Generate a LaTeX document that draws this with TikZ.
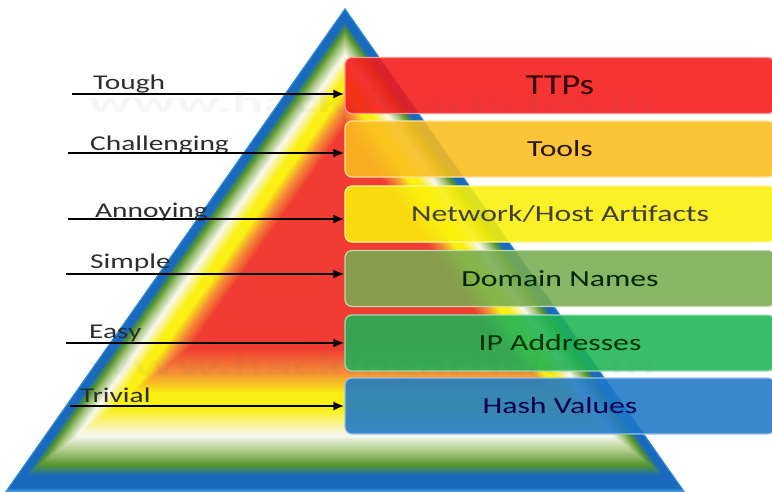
\documentclass[tikz,border=0pt]{standalone}
\usepackage{fontspec}
\setmainfont{Carlito}
\usepackage{graphicx}
\usetikzlibrary{calc,arrows.meta}
\definecolor{lblue}{RGB}{70,165,230}
\definecolor{pblue}{RGB}{25,105,190}
\definecolor{pgreen}{RGB}{85,150,45}
\definecolor{lgreen}{RGB}{170,200,130}
\definecolor{pwhite}{RGB}{248,248,240}
\definecolor{pyellow}{RGB}{250,240,20}
\definecolor{porange}{RGB}{245,140,55}
\definecolor{pred}{RGB}{240,60,50}
\definecolor{bred}{RGB}{245,25,25}
\definecolor{borange}{RGB}{250,190,30}
\definecolor{byellow}{RGB}{250,240,10}
\definecolor{bolive}{RGB}{120,172,80}
\definecolor{bgreen}{RGB}{30,180,85}
\definecolor{bblue}{RGB}{30,120,200}
\definecolor{lblgray}{RGB}{45,45,45}
\newcommand\wtxt[3]{\scalebox{#1}[1]{\fontsize{#2}{#2}\selectfont #3}}
\newcommand\pyrband[4]{%
  \foreach \k in {0,...,12}{%
    \pgfmathsetmacro\ss{#1-(#1-#2)*\k/12}%
    \pgfmathtruncatemacro\pp{100*\k/12}%
    \fill[fill={#4!\pp!#3}] ($(C)!\ss!(A)$) -- ($(C)!\ss!(L)$) -- ($(C)!\ss!(R)$) -- cycle;
  }}
\tikzset{
  tierbox/.style 2 args={rounded corners=7pt, minimum width=430pt, minimum height=56pt,
    inner sep=0pt, fill=#1, fill opacity=0.88, text opacity=1, draw=#1!45!white,
    line width=1.2pt, text=#2},
  lbl/.style={anchor=base west, inner sep=0pt, text=lblgray},
  arr/.style={line width=2pt, -{Latex[length=11pt,width=9pt]}},
  wmark/.style={anchor=base west, inner sep=0pt, text=black!60, opacity=0.05}
}
\begin{document}
\begin{tikzpicture}[x=1pt,y=-1pt]
\useasboundingbox (0,0) rectangle (772,491);
\fill[white] (0,0) rectangle (772,491);
% pyramid
\coordinate (A) at (345,8);
\coordinate (L) at (5,492);
\coordinate (R) at (685,492);
\coordinate (C) at (345,228);
\pyrband{1.00}{0.985}{lblue}{pblue}
\pyrband{0.985}{0.94}{pblue}{pblue}
\pyrband{0.94}{0.90}{pblue}{pgreen}
\pyrband{0.90}{0.85}{pgreen}{lgreen}
\pyrband{0.85}{0.79}{lgreen}{pwhite}
\pyrband{0.79}{0.69}{pwhite}{pyellow}
\pyrband{0.69}{0.63}{pyellow}{pyellow}
\pyrband{0.63}{0.55}{pyellow}{porange}
\pyrband{0.55}{0.46}{porange}{pred}
\fill[pred] ($(C)!0.46!(A)$) -- ($(C)!0.46!(L)$) -- ($(C)!0.46!(R)$) -- cycle;
% tiers
\node[tierbox={bred}{black!80!red}] (ttp) at (560,85.5) {\wtxt{1.25}{29}{TTPs}};
\node[tierbox={borange}{black!85!orange}] (tools) at (560,149) {\wtxt{1.38}{23}{Tools}};
\node[tierbox={byellow}{black!85!yellow}] (net) at (560,214) {\wtxt{1.38}{23}{Network/Host Artifacts}};
\node[tierbox={bolive}{black!85!green}] (dom) at (560,278.5) {\wtxt{1.38}{23}{Domain Names}};
\node[tierbox={bgreen}{black!80!green}] (ip) at (560,343) {\wtxt{1.38}{23}{IP Addresses}};
\node[tierbox={bblue}{black!70!blue}] (hash) at (560,406) {\wtxt{1.38}{23}{Hash Values}};
% labels
\node[lbl] (ltough) at (93,89) {\wtxt{1.4}{21}{Tough}};
\node[lbl] (lchal) at (90,150) {\wtxt{1.4}{21}{Challenging}};
\node[lbl] (lann) at (95,217) {\wtxt{1.4}{21}{Annoying}};
\node[lbl] (lsimp) at (90,268) {\wtxt{1.4}{21}{Simple}};
\node[lbl] (leasy) at (89,338) {\wtxt{1.4}{21}{Easy}};
\node[lbl] (ltriv) at (80,402) {\wtxt{1.4}{21}{Trivial}};
% arrows
\coordinate (a1) at (72,94);
\coordinate (a2) at (68,153);
\coordinate (a3) at (68,219);
\coordinate (a4) at (66,274);
\coordinate (a5) at (66,343);
\coordinate (a6) at (70,406);
\draw[arr] (a1) -- (a1 -| ttp.west);
\draw[arr] (a2) -- (a2 -| tools.west);
\draw[arr] (a3) -- (a3 -| net.west);
\draw[arr] (a4) -- (a4 -| dom.west);
\draw[arr] (a5) -- (a5 -| ip.west);
\draw[arr] (a6) -- (a6 -| hash.west);
% watermark
\node[wmark] (wm1) at (88,112) {\resizebox{567pt}{21pt}{\bfseries www.hackingarticles.in}};
\node[wmark] (wm2) at (88,375) {\resizebox{567pt}{21pt}{\bfseries www.hackingarticles.in}};
\end{tikzpicture}
\end{document}
